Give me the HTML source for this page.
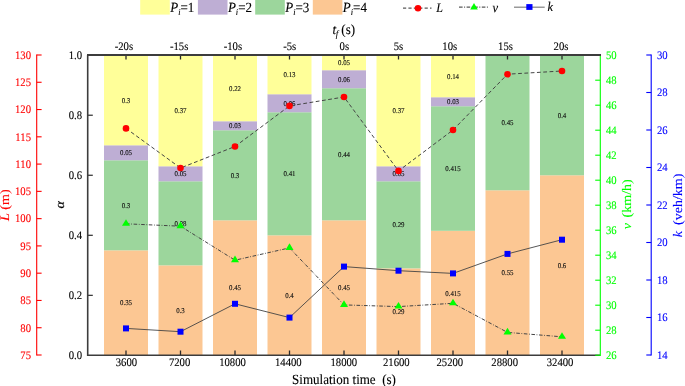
<!DOCTYPE html><html><head><meta charset="utf-8"><style>
html,body{margin:0;padding:0;background:#fff;width:685px;height:386px;overflow:hidden}
svg{display:block;will-change:transform}text{font-family:"Liberation Serif",serif;text-rendering:geometricPrecision;stroke:currentColor;stroke-width:0.12px}
</style></head><body>
<svg width="685" height="386" viewBox="0 0 685 386">
<rect x="104.00" y="250.33" width="44.0" height="105.07" fill="#FCC793"/>
<rect x="104.00" y="160.27" width="44.0" height="90.06" fill="#9CD69C"/>
<rect x="104.00" y="145.26" width="44.0" height="15.01" fill="#BEAED4"/>
<rect x="104.00" y="55.20" width="44.0" height="90.06" fill="#FFFF99"/>
<rect x="158.50" y="265.34" width="44.0" height="90.06" fill="#FCC793"/>
<rect x="158.50" y="181.28" width="44.0" height="84.06" fill="#9CD69C"/>
<rect x="158.50" y="166.27" width="44.0" height="15.01" fill="#BEAED4"/>
<rect x="158.50" y="55.20" width="44.0" height="111.07" fill="#FFFF99"/>
<rect x="213.00" y="220.31" width="44.0" height="135.09" fill="#FCC793"/>
<rect x="213.00" y="130.25" width="44.0" height="90.06" fill="#9CD69C"/>
<rect x="213.00" y="121.24" width="44.0" height="9.01" fill="#BEAED4"/>
<rect x="213.00" y="55.20" width="44.0" height="66.04" fill="#FFFF99"/>
<rect x="267.50" y="235.32" width="44.0" height="120.08" fill="#FCC793"/>
<rect x="267.50" y="112.24" width="44.0" height="123.08" fill="#9CD69C"/>
<rect x="267.50" y="94.23" width="44.0" height="18.01" fill="#BEAED4"/>
<rect x="267.50" y="55.20" width="44.0" height="39.03" fill="#FFFF99"/>
<rect x="322.00" y="220.31" width="44.0" height="135.09" fill="#FCC793"/>
<rect x="322.00" y="88.22" width="44.0" height="132.09" fill="#9CD69C"/>
<rect x="322.00" y="70.21" width="44.0" height="18.01" fill="#BEAED4"/>
<rect x="322.00" y="55.20" width="44.0" height="15.01" fill="#FFFF99"/>
<rect x="376.50" y="268.34" width="44.0" height="87.06" fill="#FCC793"/>
<rect x="376.50" y="181.28" width="44.0" height="87.06" fill="#9CD69C"/>
<rect x="376.50" y="166.27" width="44.0" height="15.01" fill="#BEAED4"/>
<rect x="376.50" y="55.20" width="44.0" height="111.07" fill="#FFFF99"/>
<rect x="431.00" y="230.82" width="44.0" height="124.58" fill="#FCC793"/>
<rect x="431.00" y="106.23" width="44.0" height="124.58" fill="#9CD69C"/>
<rect x="431.00" y="97.23" width="44.0" height="9.01" fill="#BEAED4"/>
<rect x="431.00" y="55.20" width="44.0" height="42.03" fill="#FFFF99"/>
<rect x="485.50" y="190.29" width="44.0" height="165.11" fill="#FCC793"/>
<rect x="485.50" y="55.20" width="44.0" height="135.09" fill="#9CD69C"/>
<rect x="540.00" y="175.28" width="44.0" height="180.12" fill="#FCC793"/>
<rect x="540.00" y="55.20" width="44.0" height="120.08" fill="#9CD69C"/>
<g fill="#111" color="#111">
<text transform="translate(126.00,305.37) scale(0.93,1)" font-size="7.4" text-anchor="middle">0.35</text>
<text transform="translate(126.00,207.80) scale(0.93,1)" font-size="7.4" text-anchor="middle">0.3</text>
<text transform="translate(126.00,155.26) scale(0.93,1)" font-size="7.4" text-anchor="middle">0.05</text>
<text transform="translate(126.00,102.73) scale(0.93,1)" font-size="7.4" text-anchor="middle">0.3</text>
<text transform="translate(180.50,312.87) scale(0.93,1)" font-size="7.4" text-anchor="middle">0.3</text>
<text transform="translate(180.50,225.81) scale(0.93,1)" font-size="7.4" text-anchor="middle">0.28</text>
<text transform="translate(180.50,176.28) scale(0.93,1)" font-size="7.4" text-anchor="middle">0.05</text>
<text transform="translate(180.50,113.24) scale(0.93,1)" font-size="7.4" text-anchor="middle">0.37</text>
<text transform="translate(235.00,290.35) scale(0.93,1)" font-size="7.4" text-anchor="middle">0.45</text>
<text transform="translate(235.00,177.78) scale(0.93,1)" font-size="7.4" text-anchor="middle">0.3</text>
<text transform="translate(235.00,128.25) scale(0.93,1)" font-size="7.4" text-anchor="middle">0.03</text>
<text transform="translate(235.00,90.72) scale(0.93,1)" font-size="7.4" text-anchor="middle">0.22</text>
<text transform="translate(289.50,297.86) scale(0.93,1)" font-size="7.4" text-anchor="middle">0.4</text>
<text transform="translate(289.50,176.28) scale(0.93,1)" font-size="7.4" text-anchor="middle">0.41</text>
<text transform="translate(289.50,105.73) scale(0.93,1)" font-size="7.4" text-anchor="middle">0.06</text>
<text transform="translate(289.50,77.21) scale(0.93,1)" font-size="7.4" text-anchor="middle">0.13</text>
<text transform="translate(344.00,290.35) scale(0.93,1)" font-size="7.4" text-anchor="middle">0.45</text>
<text transform="translate(344.00,156.77) scale(0.93,1)" font-size="7.4" text-anchor="middle">0.44</text>
<text transform="translate(344.00,81.72) scale(0.93,1)" font-size="7.4" text-anchor="middle">0.06</text>
<text transform="translate(344.00,65.20) scale(0.93,1)" font-size="7.4" text-anchor="middle">0.05</text>
<text transform="translate(398.50,314.37) scale(0.93,1)" font-size="7.4" text-anchor="middle">0.29</text>
<text transform="translate(398.50,227.31) scale(0.93,1)" font-size="7.4" text-anchor="middle">0.29</text>
<text transform="translate(398.50,176.28) scale(0.93,1)" font-size="7.4" text-anchor="middle">0.05</text>
<text transform="translate(398.50,113.24) scale(0.93,1)" font-size="7.4" text-anchor="middle">0.37</text>
<text transform="translate(453.00,295.61) scale(0.93,1)" font-size="7.4" text-anchor="middle">0.415</text>
<text transform="translate(453.00,171.03) scale(0.93,1)" font-size="7.4" text-anchor="middle">0.415</text>
<text transform="translate(453.00,104.23) scale(0.93,1)" font-size="7.4" text-anchor="middle">0.03</text>
<text transform="translate(453.00,78.71) scale(0.93,1)" font-size="7.4" text-anchor="middle">0.14</text>
<text transform="translate(507.50,275.34) scale(0.93,1)" font-size="7.4" text-anchor="middle">0.55</text>
<text transform="translate(507.50,125.24) scale(0.93,1)" font-size="7.4" text-anchor="middle">0.45</text>
<text transform="translate(562.00,267.84) scale(0.93,1)" font-size="7.4" text-anchor="middle">0.6</text>
<text transform="translate(562.00,117.74) scale(0.93,1)" font-size="7.4" text-anchor="middle">0.4</text>
</g>
<polyline points="126.00,128.40 180.50,168.00 235.00,146.50 289.50,105.90 344.00,97.00 398.50,170.90 453.00,130.00 507.50,74.20 562.00,71.00" fill="none" stroke="#444" stroke-width="1" stroke-dasharray="3.8 2.5"/>
<polyline points="126.00,223.80 180.50,226.20 235.00,260.20 289.50,247.90 344.00,304.90 398.50,306.60 453.00,303.30 507.50,332.40 562.00,336.80" fill="none" stroke="#444" stroke-width="1" stroke-dasharray="3.6 1.6 0.8 1.6"/>
<polyline points="126.00,328.40 180.50,331.70 235.00,303.80 289.50,317.60 344.00,266.60 398.50,270.70 453.00,273.40 507.50,253.90 562.00,239.70" fill="none" stroke="#444" stroke-width="0.9"/>
<circle cx="126.00" cy="128.40" r="3.3" fill="#f00"/>
<circle cx="180.50" cy="168.00" r="3.3" fill="#f00"/>
<circle cx="235.00" cy="146.50" r="3.3" fill="#f00"/>
<circle cx="289.50" cy="105.90" r="3.3" fill="#f00"/>
<circle cx="344.00" cy="97.00" r="3.3" fill="#f00"/>
<circle cx="398.50" cy="170.90" r="3.3" fill="#f00"/>
<circle cx="453.00" cy="130.00" r="3.3" fill="#f00"/>
<circle cx="507.50" cy="74.20" r="3.3" fill="#f00"/>
<circle cx="562.00" cy="71.00" r="3.3" fill="#f00"/>
<path d="M126.00,219.20L130.00,225.80L122.00,225.80Z" fill="#0f0"/>
<path d="M180.50,221.60L184.50,228.20L176.50,228.20Z" fill="#0f0"/>
<path d="M235.00,255.60L239.00,262.20L231.00,262.20Z" fill="#0f0"/>
<path d="M289.50,243.30L293.50,249.90L285.50,249.90Z" fill="#0f0"/>
<path d="M344.00,300.30L348.00,306.90L340.00,306.90Z" fill="#0f0"/>
<path d="M398.50,302.00L402.50,308.60L394.50,308.60Z" fill="#0f0"/>
<path d="M453.00,298.70L457.00,305.30L449.00,305.30Z" fill="#0f0"/>
<path d="M507.50,327.80L511.50,334.40L503.50,334.40Z" fill="#0f0"/>
<path d="M562.00,332.20L566.00,338.80L558.00,338.80Z" fill="#0f0"/>
<rect x="123.00" y="325.40" width="6" height="6" fill="#00f"/>
<rect x="177.50" y="328.70" width="6" height="6" fill="#00f"/>
<rect x="232.00" y="300.80" width="6" height="6" fill="#00f"/>
<rect x="286.50" y="314.60" width="6" height="6" fill="#00f"/>
<rect x="341.00" y="263.60" width="6" height="6" fill="#00f"/>
<rect x="395.50" y="267.70" width="6" height="6" fill="#00f"/>
<rect x="450.00" y="270.40" width="6" height="6" fill="#00f"/>
<rect x="504.50" y="250.90" width="6" height="6" fill="#00f"/>
<rect x="559.00" y="236.70" width="6" height="6" fill="#00f"/>
<g stroke="#3c3c3c" stroke-width="1.6" fill="none">
<path d="M87.7,54.8V356"/>
<path d="M87,355.2H600"/>
</g>
<g stroke="#3c3c3c" stroke-width="1.3" fill="none">
<path d="M87.7,295.36H92.8"/>
<path d="M87.7,235.32H92.8"/>
<path d="M87.7,175.28H92.8"/>
<path d="M87.7,115.24H92.8"/>
<path d="M87.7,55.20H92.8"/>
</g>
<g stroke="#2a2a2a" stroke-width="1.3" fill="none">
<path d="M126.00,355H126.00V350.5"/>
<path d="M126.00,55V59.5"/>
<path d="M180.50,355H180.50V350.5"/>
<path d="M180.50,55V59.5"/>
<path d="M235.00,355H235.00V350.5"/>
<path d="M235.00,55V59.5"/>
<path d="M289.50,355H289.50V350.5"/>
<path d="M289.50,55V59.5"/>
<path d="M344.00,355H344.00V350.5"/>
<path d="M344.00,55V59.5"/>
<path d="M398.50,355H398.50V350.5"/>
<path d="M398.50,55V59.5"/>
<path d="M453.00,355H453.00V350.5"/>
<path d="M453.00,55V59.5"/>
<path d="M507.50,355H507.50V350.5"/>
<path d="M507.50,55V59.5"/>
<path d="M562.00,355H562.00V350.5"/>
<path d="M562.00,55V59.5"/>
</g>
<g stroke="#00ff00" stroke-width="1.1" fill="none">
<path d="M600.3,55V356"/>
<path d="M595.2,355.20H600.3"/>
<path d="M595.2,330.20H600.3"/>
<path d="M595.2,305.20H600.3"/>
<path d="M595.2,280.20H600.3"/>
<path d="M595.2,255.20H600.3"/>
<path d="M595.2,230.20H600.3"/>
<path d="M595.2,205.20H600.3"/>
<path d="M595.2,180.20H600.3"/>
<path d="M595.2,155.20H600.3"/>
<path d="M595.2,130.20H600.3"/>
<path d="M595.2,105.20H600.3"/>
<path d="M595.2,80.20H600.3"/>
<path d="M595.2,55.20H600.3"/>
</g>
<path d="M87,55H601" stroke="#3c3c3c" stroke-width="1.8" fill="none"/>
<g stroke="#0000ff" stroke-width="1.1" fill="none">
<path d="M651.2,54.5V355.5"/>
<path d="M646.3,355.00H651.2"/>
<path d="M646.3,317.50H651.2"/>
<path d="M646.3,280.00H651.2"/>
<path d="M646.3,242.50H651.2"/>
<path d="M646.3,205.00H651.2"/>
<path d="M646.3,167.50H651.2"/>
<path d="M646.3,130.00H651.2"/>
<path d="M646.3,92.50H651.2"/>
<path d="M646.3,55.00H651.2"/>
</g>
<g stroke="#ff0000" stroke-width="1.1" fill="none">
<path d="M36.7,54.5V355.5"/>
<path d="M36.7,355.00H41.6"/>
<path d="M36.7,327.73H41.6"/>
<path d="M36.7,300.45H41.6"/>
<path d="M36.7,273.18H41.6"/>
<path d="M36.7,245.91H41.6"/>
<path d="M36.7,218.64H41.6"/>
<path d="M36.7,191.36H41.6"/>
<path d="M36.7,164.09H41.6"/>
<path d="M36.7,136.82H41.6"/>
<path d="M36.7,109.55H41.6"/>
<path d="M36.7,82.27H41.6"/>
<path d="M36.7,55.00H41.6"/>
</g>
<g fill="#000" color="#000">
<text transform="translate(82.00,359.25) scale(0.93,1)" font-size="11.5" text-anchor="end">0.0</text>
<text transform="translate(82.00,299.21) scale(0.93,1)" font-size="11.5" text-anchor="end">0.2</text>
<text transform="translate(82.00,239.17) scale(0.93,1)" font-size="11.5" text-anchor="end">0.4</text>
<text transform="translate(82.00,179.13) scale(0.93,1)" font-size="11.5" text-anchor="end">0.6</text>
<text transform="translate(82.00,119.09) scale(0.93,1)" font-size="11.5" text-anchor="end">0.8</text>
<text transform="translate(82.00,59.05) scale(0.93,1)" font-size="11.5" text-anchor="end">1.0</text>
<text transform="translate(126.40,366.00) scale(0.93,1)" font-size="11.5" text-anchor="middle">3600</text>
<text transform="translate(179.60,366.00) scale(0.93,1)" font-size="11.5" text-anchor="middle">7200</text>
<text transform="translate(232.50,366.00) scale(0.93,1)" font-size="11.5" text-anchor="middle">10800</text>
<text transform="translate(288.30,366.00) scale(0.93,1)" font-size="11.5" text-anchor="middle">14400</text>
<text transform="translate(343.80,366.00) scale(0.93,1)" font-size="11.5" text-anchor="middle">18000</text>
<text transform="translate(396.30,366.00) scale(0.93,1)" font-size="11.5" text-anchor="middle">21600</text>
<text transform="translate(449.80,366.00) scale(0.93,1)" font-size="11.5" text-anchor="middle">25200</text>
<text transform="translate(504.70,366.00) scale(0.93,1)" font-size="11.5" text-anchor="middle">28800</text>
<text transform="translate(560.10,366.00) scale(0.93,1)" font-size="11.5" text-anchor="middle">32400</text>
<text transform="translate(123.90,49.80) scale(0.93,1)" font-size="11.5" text-anchor="middle">-20s</text>
<text transform="translate(179.10,49.80) scale(0.93,1)" font-size="11.5" text-anchor="middle">-15s</text>
<text transform="translate(232.90,49.80) scale(0.93,1)" font-size="11.5" text-anchor="middle">-10s</text>
<text transform="translate(289.70,49.80) scale(0.93,1)" font-size="11.5" text-anchor="middle">-5s</text>
<text transform="translate(344.30,49.80) scale(0.93,1)" font-size="11.5" text-anchor="middle">0s</text>
<text transform="translate(398.50,49.80) scale(0.93,1)" font-size="11.5" text-anchor="middle">5s</text>
<text transform="translate(449.80,49.80) scale(0.93,1)" font-size="11.5" text-anchor="middle">10s</text>
<text transform="translate(505.50,49.80) scale(0.93,1)" font-size="11.5" text-anchor="middle">15s</text>
<text transform="translate(561.00,49.80) scale(0.93,1)" font-size="11.5" text-anchor="middle">20s</text>
</g>
<g fill="#ff0000" color="#ff0000">
<text transform="translate(31.00,358.85) scale(0.93,1)" font-size="11.5" text-anchor="end">75</text>
<text transform="translate(31.00,331.58) scale(0.93,1)" font-size="11.5" text-anchor="end">80</text>
<text transform="translate(31.00,304.30) scale(0.93,1)" font-size="11.5" text-anchor="end">85</text>
<text transform="translate(31.00,277.03) scale(0.93,1)" font-size="11.5" text-anchor="end">90</text>
<text transform="translate(31.00,249.76) scale(0.93,1)" font-size="11.5" text-anchor="end">95</text>
<text transform="translate(31.00,222.49) scale(0.93,1)" font-size="11.5" text-anchor="end">100</text>
<text transform="translate(31.00,195.21) scale(0.93,1)" font-size="11.5" text-anchor="end">105</text>
<text transform="translate(31.00,167.94) scale(0.93,1)" font-size="11.5" text-anchor="end">110</text>
<text transform="translate(31.00,140.67) scale(0.93,1)" font-size="11.5" text-anchor="end">115</text>
<text transform="translate(31.00,113.40) scale(0.93,1)" font-size="11.5" text-anchor="end">120</text>
<text transform="translate(31.00,86.12) scale(0.93,1)" font-size="11.5" text-anchor="end">125</text>
<text transform="translate(31.00,58.85) scale(0.93,1)" font-size="11.5" text-anchor="end">130</text>
</g>
<g fill="#00ff00" color="#00ff00">
<text transform="translate(606.00,358.85) scale(0.93,1)" font-size="11.5">26</text>
<text transform="translate(606.00,333.85) scale(0.93,1)" font-size="11.5">28</text>
<text transform="translate(606.00,308.85) scale(0.93,1)" font-size="11.5">30</text>
<text transform="translate(606.00,283.85) scale(0.93,1)" font-size="11.5">32</text>
<text transform="translate(606.00,258.85) scale(0.93,1)" font-size="11.5">34</text>
<text transform="translate(606.00,233.85) scale(0.93,1)" font-size="11.5">36</text>
<text transform="translate(606.00,208.85) scale(0.93,1)" font-size="11.5">38</text>
<text transform="translate(606.00,183.85) scale(0.93,1)" font-size="11.5">40</text>
<text transform="translate(606.00,158.85) scale(0.93,1)" font-size="11.5">42</text>
<text transform="translate(606.00,133.85) scale(0.93,1)" font-size="11.5">44</text>
<text transform="translate(606.00,108.85) scale(0.93,1)" font-size="11.5">46</text>
<text transform="translate(606.00,83.85) scale(0.93,1)" font-size="11.5">48</text>
<text transform="translate(606.00,58.85) scale(0.93,1)" font-size="11.5">50</text>
</g>
<g fill="#0000ff" color="#0000ff">
<text transform="translate(657.00,358.85) scale(0.93,1)" font-size="11.5">14</text>
<text transform="translate(657.00,321.35) scale(0.93,1)" font-size="11.5">16</text>
<text transform="translate(657.00,283.85) scale(0.93,1)" font-size="11.5">18</text>
<text transform="translate(657.00,246.35) scale(0.93,1)" font-size="11.5">20</text>
<text transform="translate(657.00,208.85) scale(0.93,1)" font-size="11.5">22</text>
<text transform="translate(657.00,171.35) scale(0.93,1)" font-size="11.5">24</text>
<text transform="translate(657.00,133.85) scale(0.93,1)" font-size="11.5">26</text>
<text transform="translate(657.00,96.35) scale(0.93,1)" font-size="11.5">28</text>
<text transform="translate(657.00,58.85) scale(0.93,1)" font-size="11.5">30</text>
</g>
<text transform="translate(344.00,383.80) scale(0.93,1)" font-size="14" text-anchor="middle" xml:space="preserve">Simulation time  (s)</text>
<text transform="translate(9.00,205.20) scale(0.93,1) rotate(-90)" font-size="14" text-anchor="middle" fill="#ff0000" color="#ff0000"><tspan font-style="italic">L</tspan> (m)</text>
<text transform="translate(63.60,204.90) scale(0.93,1) rotate(-90)" font-size="14" text-anchor="middle" fill="#000" color="#000"><tspan font-style="italic">α</tspan></text>
<text transform="translate(631.20,204.30) scale(0.93,1) rotate(-90)" font-size="14" text-anchor="middle" fill="#00ff00" color="#00ff00"><tspan font-style="italic">v</tspan><tspan dx="2.2"> (km/h)</tspan></text>
<text transform="translate(681.80,205.40) scale(0.93,1) rotate(-90)" font-size="14" text-anchor="middle" fill="#0000ff" color="#0000ff"><tspan font-style="italic">k</tspan><tspan dx="2.5"> (veh/km)</tspan></text>
<text transform="translate(332.60,34.40) scale(0.93,1)" font-size="14"><tspan font-style="italic">t</tspan><tspan font-style="italic" font-size="9.5" dy="3" dx="-0.6">f</tspan><tspan dy="-3"> (s)</tspan></text>
<rect x="140.2" y="0" width="29.6" height="14.6" fill="#FFFF99"/>
<text transform="translate(170.20,12.00) scale(0.93,1)" font-size="14"><tspan font-style="italic">P</tspan><tspan font-style="italic" font-size="9" dy="2.5">i</tspan><tspan dy="-2.5">=</tspan>1</text>
<rect x="197.9" y="0" width="29.6" height="14.6" fill="#BEAED4"/>
<text transform="translate(227.90,12.00) scale(0.93,1)" font-size="14"><tspan font-style="italic">P</tspan><tspan font-style="italic" font-size="9" dy="2.5">i</tspan><tspan dy="-2.5">=</tspan>2</text>
<rect x="255.2" y="0" width="29.6" height="14.6" fill="#9CD69C"/>
<text transform="translate(285.20,12.00) scale(0.93,1)" font-size="14"><tspan font-style="italic">P</tspan><tspan font-style="italic" font-size="9" dy="2.5">i</tspan><tspan dy="-2.5">=</tspan>3</text>
<rect x="312.8" y="0" width="29.6" height="14.6" fill="#FCC793"/>
<text transform="translate(342.80,12.00) scale(0.93,1)" font-size="14"><tspan font-style="italic">P</tspan><tspan font-style="italic" font-size="9" dy="2.5">i</tspan><tspan dy="-2.5">=</tspan>4</text>
<path d="M403,8.2H431.5" stroke="#5a5a5a" stroke-width="1.2" stroke-dasharray="3.2 2.2"/>
<circle cx="418" cy="8.2" r="3.3" fill="#f00"/>
<text transform="translate(436.30,12.40) scale(0.93,1)" font-size="13" font-style="italic">L</text>
<path d="M459,7.2H489" stroke="#5a5a5a" stroke-width="1.2" stroke-dasharray="3.6 1.5 1 1.5"/>
<path d="M474,2.9L477.8,9.4L470.2,9.4Z" fill="#0f0"/>
<text transform="translate(492.50,11.80) scale(0.93,1)" font-size="13.5" font-style="italic">v</text>
<path d="M514,7.2H544.7" stroke="#808080" stroke-width="1.2"/>
<rect x="526.3" y="4.1" width="6.2" height="5.8" fill="#00f"/>
<text transform="translate(547.60,11.20) scale(0.93,1)" font-size="13.2" font-style="italic">k</text>
</svg></body></html>
